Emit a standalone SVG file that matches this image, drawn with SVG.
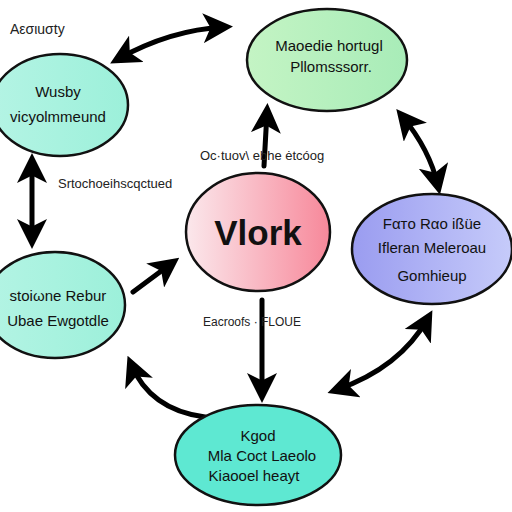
<svg xmlns="http://www.w3.org/2000/svg" width="512" height="512" viewBox="0 0 512 512">
<style>
.node{stroke:#111;stroke-width:2.5}
.t{font-family:"Liberation Sans",Arial,sans-serif;font-size:15px;fill:#111;text-anchor:middle}
.big{font-size:35px;font-weight:bold}
.lbl{font-family:"Liberation Sans",Arial,sans-serif;font-size:13px;fill:#222}
.c{fill:none;stroke:#000;stroke-width:5;stroke-linecap:round}
</style>
<defs>
<marker id="ah" viewBox="0 0 10 10" refX="7" refY="5" markerWidth="6" markerHeight="6" markerUnits="strokeWidth" orient="auto-start-reverse">
<path d="M0,0 L10,5 L0,10 L2.5,5 Z" fill="#000"/>
</marker>
<linearGradient id="gPink" x1="0" x2="1" y1="0" y2="0"><stop offset="0" stop-color="#fbe8ec"/><stop offset="1" stop-color="#f7889a"/></linearGradient>
<linearGradient id="gBlue" x1="0" x2="1" y1="0" y2="0"><stop offset="0" stop-color="#9a9cf0"/><stop offset="1" stop-color="#c6cbfa"/></linearGradient>
<linearGradient id="gMint" x1="0" x2="1" y1="0" y2="0"><stop offset="0" stop-color="#b4f4e4"/><stop offset="1" stop-color="#9cf0da"/></linearGradient>
<linearGradient id="gGreen" x1="0" x2="1" y1="0" y2="0"><stop offset="0" stop-color="#c4f4c4"/><stop offset="1" stop-color="#a8ecb8"/></linearGradient>
</defs>
<rect width="512" height="512" fill="#fff"/>
<g id="connectors">
<path class="c" d="M118,59 Q170,30 224,27" marker-start="url(#ah)" marker-end="url(#ah)"/>
<path class="c" d="M32,162 L32,240" marker-start="url(#ah)" marker-end="url(#ah)"/>
<path class="c" d="M264,166 L267,112" marker-end="url(#ah)"/>
<path class="c" d="M402,116 Q430,150 438,186" marker-start="url(#ah)" marker-end="url(#ah)"/>
<path class="c" d="M336,390 Q400,368 428,318" marker-start="url(#ah)" marker-end="url(#ah)"/>
<path class="c" d="M262,300 L262,394" marker-end="url(#ah)"/>
<path class="c" d="M205,417 Q150,410 131,364" marker-end="url(#ah)"/>
<path class="c" d="M133,292 L172,263" marker-end="url(#ah)"/>
</g>
<g id="label-a"><text class="lbl" x="10" y="34" style="font-size:14px">Aεσιuσty</text></g>
<g id="label-b"><text class="lbl" x="58" y="188">Srtochoeihscqctued</text></g>
<g id="label-c"><text class="lbl" x="200" y="160">Oc·tuov\ ebhe ėtcóog</text></g>
<g id="label-d"><text class="lbl" x="203" y="326" style="font-size:12px">Eacroofs · FLOUE</text></g>
<g id="node-wusby">
<ellipse class="node" cx="60" cy="105" rx="68" ry="51" fill="url(#gMint)"/>
<text class="t" x="58" y="97">Wusby</text>
<text class="t" x="58" y="122">vicyolmmeund</text>
</g>
<g id="node-top">
<ellipse class="node" cx="327" cy="60" rx="80" ry="51" fill="url(#gGreen)"/>
<text class="t" x="329" y="51">Maoedie hortugl</text>
<text class="t" x="331" y="72">Pllomsssorr.</text>
</g>
<g id="node-vlork">
<ellipse class="node" cx="258" cy="232" rx="72" ry="59" fill="url(#gPink)"/>
<text class="t big" x="258" y="245">Vlork</text>
</g>
<g id="node-right">
<ellipse class="node" cx="432" cy="249" rx="80" ry="55" fill="url(#gBlue)"/>
<text class="t" x="432" y="229">Fαтο Rαο ißüe</text>
<text class="t" x="432" y="253">Ifleran  Meleroau</text>
<text class="t" x="432" y="281">Gomhieup</text>
</g>
<g id="node-left">
<ellipse class="node" cx="55" cy="305" rx="70" ry="53" fill="url(#gMint)"/>
<text class="t" x="58" y="301">stoiωne  Rebur</text>
<text class="t" x="58" y="326">Ubae Ewgotdle</text>
</g>
<g id="node-bottom">
<ellipse cx="258" cy="455" rx="83" ry="50" fill="#5ee8d2" stroke="#111" stroke-width="2.5"/>
<text class="t" x="258" y="441">Kgod</text>
<text class="t" x="262" y="461">Mla Coct  Laeolo</text>
<text class="t" x="254" y="481">Kiaooel  heayt</text>
</g>
</svg>
